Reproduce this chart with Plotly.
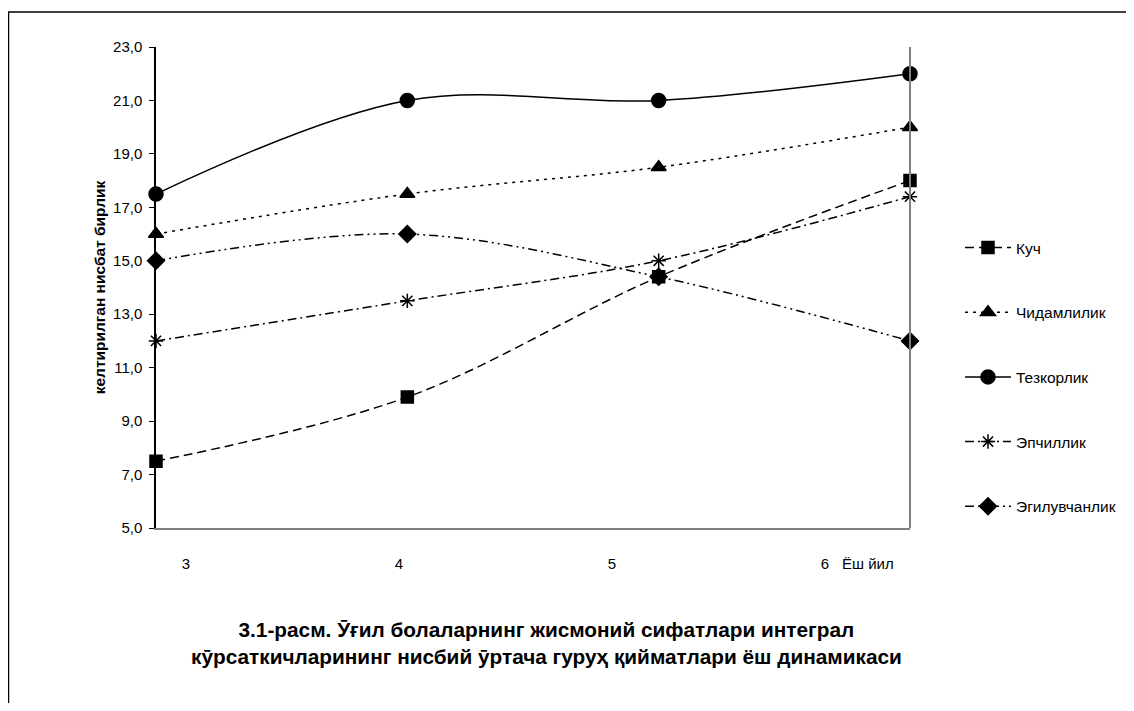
import plotly.graph_objects as go

# ---- data ----
ages = [3, 4, 5, 6]
kuch = [7.5, 9.9, 14.4, 18.0]            # Куч
chidamlilik = [16.0, 17.5, 18.5, 20.0]   # Чидамлилик
tezkorlik = [17.5, 21.0, 21.0, 22.0]     # Тезкорлик
epchillik = [12.0, 13.5, 15.0, 17.4]     # Эпчиллик
egiluvchanlik = [15.0, 16.0, 14.4, 12.0] # Эгилувчанлик
tick_labels = ["3", "4", "5", "6"]

OFF = 8                      # page body margin
W, H = 1118, 695             # figure size
L, R, T, B = 156, 910, 47, 528  # plot area in page pixels

def px_to_x(px):
    return 3 + (px - L) * 3.0 / (R - L)

def px_to_paper_x(px):
    return (px - L) / (R - L)

def px_to_paper_y(py):
    return (B - py) / (B - T)

tickvals = [px_to_x(186 + i * 213) for i in range(4)]

series = [
    ("Куч", kuch, "square", 12, "9px,5px", 1),
    ("Чидамлилик", chidamlilik, "triangle-up", 13, "3px,5px", 2),
    ("Тезкорлик", tezkorlik, "circle", 14, "solid", 3),
    ("Эпчиллик", epchillik, "asterisk-open", 12, "9px,4px,2px,4px", 4),
    ("Эгилувчанлик", egiluvchanlik, "diamond", 13, "9px,4px,2px,4px,2px,4px", 5),
]

fig = go.Figure()
# draw Эгилувчанлик first so the square of Куч stays on top
order = [4, 0, 1, 2, 3]
for idx in order:
    name, vals, sym, size, dash, rank = series[idx]
    fig.add_trace(go.Scatter(
        x=ages, y=vals, name=name, mode="lines+markers",
        line=dict(color="black", width=1.5, dash=dash, shape="spline", smoothing=1.0),
        marker=dict(symbol=sym, size=size, color="black",
                    line=dict(color="black", width=1.5)),
        legendrank=rank, legendgroup=name, cliponaxis=False,
    ))

fig.update_layout(
    width=W, height=H,
    margin=dict(l=L - OFF, r=W - (R - OFF), t=T - OFF, b=H - (B - OFF), autoexpand=False),
    paper_bgcolor="white", plot_bgcolor="white",
    font=dict(family="Liberation Sans, Arial, sans-serif", color="black", size=15),
    separators=", ",
    showlegend=True,
    legend=dict(
        x=(960 - OFF) / W, y=1 - (231 - OFF) / H, xref="container", yref="container",
        xanchor="left", yanchor="top",
        font=dict(size=15.5, color="black"), tracegroupgap=41.5,
        bgcolor="rgba(0,0,0,0)", itemwidth=46,
    ),
    xaxis=dict(
        range=[3, 6], showgrid=False, zeroline=False, automargin=False,
        showline=True, linecolor="#808080", linewidth=2,
        tickmode="array", tickvals=tickvals, ticktext=tick_labels,
        ticks="", ticklabelstandoff=21, tickfont=dict(size=15),
    ),
    yaxis=dict(
        range=[5, 23], dtick=2, tick0=5, tickformat=".1f",
        showgrid=False, zeroline=False, automargin=False,
        showline=True, linecolor="black", linewidth=1.5,
        ticks="outside", ticklen=5, tickcolor="black", tickwidth=1,
        ticklabelstandoff=4,
        tickfont=dict(size=15),
        title=dict(text="<b>келтирилган нисбат бирлик</b>", font=dict(size=15.5), standoff=4),
    ),
    shapes=[
        # right vertical gray line of plot area
        dict(type="line", xref="paper", yref="paper", x0=1, x1=1, y0=0, y1=1,
             line=dict(color="#808080", width=2)),
        # outer chart border
        dict(type="rect", xref="paper", yref="paper",
             x0=px_to_paper_x(8.5), x1=px_to_paper_x(1160),
             y0=px_to_paper_y(740), y1=px_to_paper_y(12),
             line=dict(color="black", width=1.5), fillcolor="rgba(0,0,0,0)", layer="below"),
    ],
    annotations=[
        dict(text="Ёш йил", xref="paper", yref="paper",
             x=px_to_paper_x(868), y=px_to_paper_y(563), showarrow=False,
             font=dict(size=15), xanchor="center", yanchor="middle"),
        dict(text="<b>3.1-расм. Ӯғил болаларнинг жисмоний сифатлари интеграл<br>"
                  "кӯрсаткичларининг нисбий ӯртача гуруҳ қийматлари ёш динамикаси</b>",
             xref="paper", yref="paper",
             x=px_to_paper_x(546), y=px_to_paper_y(643), showarrow=False,
             font=dict(size=20.8), xanchor="center", yanchor="middle", align="center"),
    ],
)

fig.write_html("out.html")
